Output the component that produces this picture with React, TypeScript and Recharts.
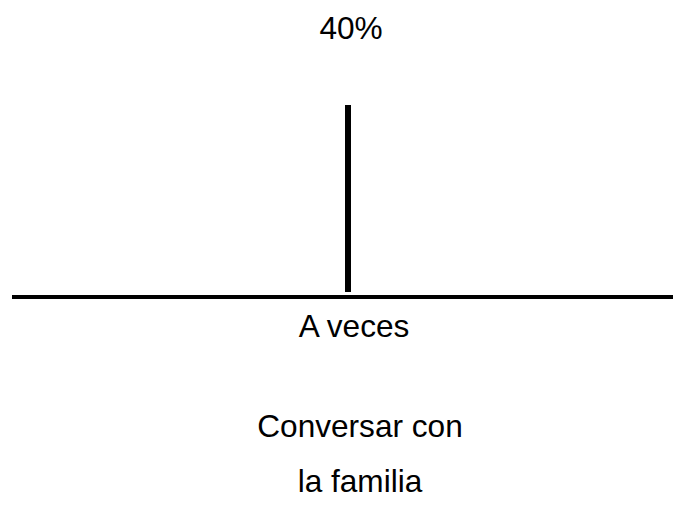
import { Bar, BarChart, LabelList, Label, XAxis, YAxis } from 'recharts';

const categories = ['A veces'];
const shares = [40];
const axisTitle = ['Conversar con', 'la familia'];

const data = categories.map((name, i) => ({ name, share: shares[i] }));

const font = { fontFamily: '"Liberation Sans", Arial, sans-serif', fontSize: 31.6, fill: '#000' };

function CategoryTick(props: any) {
  const { x, y, payload } = props;
  return (
    <text x={x + 6} y={y} dy={45} textAnchor="middle" style={font}>
      {payload.value}
    </text>
  );
}

function AxisTitle(props: any) {
  const { viewBox } = props;
  const cx = viewBox.x + viewBox.width / 2 + 12;
  return (
    <g>
      {axisTitle.map((line, i) => (
        <text key={line} x={cx} y={viewBox.y + 145 + i * 55} textAnchor="middle" style={font}>
          {line}
        </text>
      ))}
    </g>
  );
}

function ValueLabel(props: any) {
  const { x, y, width, value } = props;
  return (
    <text x={x + width / 2 + 3} y={y - 66} textAnchor="middle" style={font}>
      {`${value}%`}
    </text>
  );
}

export default function App() {
  return (
    <div
      style={{
        position: 'absolute',
        left: 0,
        top: 0,
        width: 673,
        height: 511,
        overflow: 'hidden',
        background: '#fff',
      }}
    >
      <BarChart width={684} height={511} data={data} margin={{ top: 105, right: 0, bottom: 0, left: 12 }}>
        <XAxis
          dataKey="name"
          height={219}
          tickLine={false}
          tickSize={0}
          tickMargin={0}
          tick={<CategoryTick />}
          axisLine={{ stroke: '#000', strokeWidth: 4, transform: 'translate(0,5)' }}
        >
          <Label content={<AxisTitle />} />
        </XAxis>
        <YAxis hide domain={[0, 40]} />
        <Bar dataKey="share" fill="#000" barSize={6} isAnimationActive={false}>
          <LabelList dataKey="share" content={<ValueLabel />} />
        </Bar>
      </BarChart>
    </div>
  );
}
